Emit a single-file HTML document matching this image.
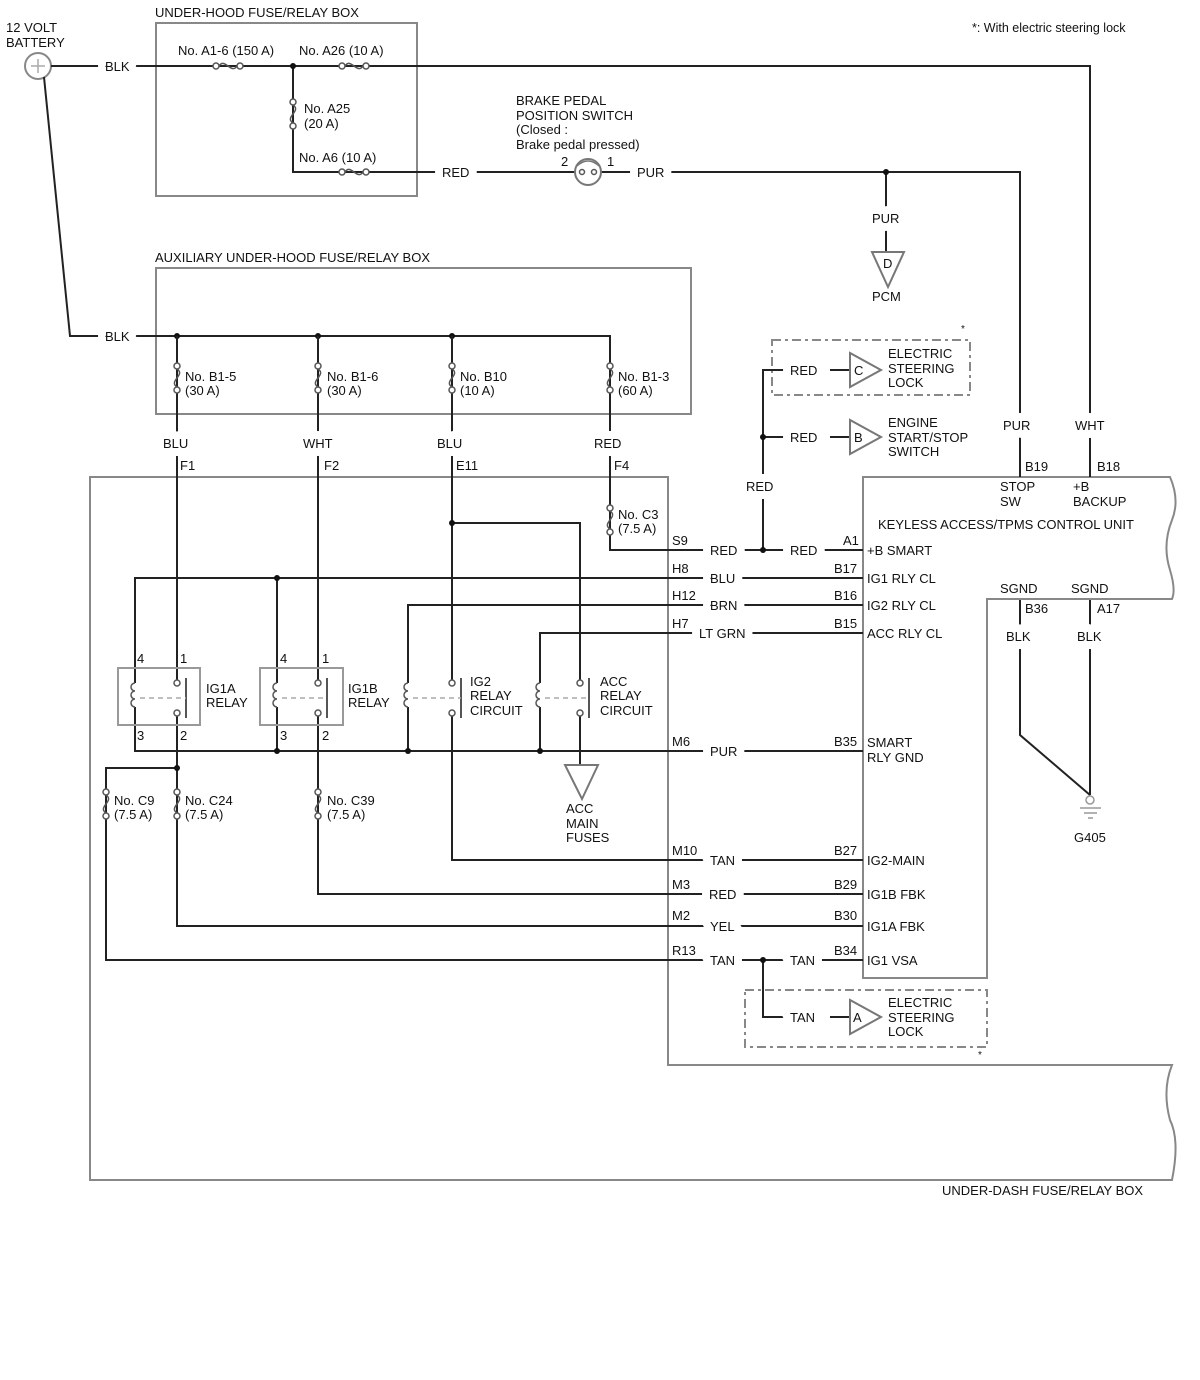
<!DOCTYPE html>
<html><head><meta charset="utf-8"><style>
html,body{margin:0;padding:0;background:#fff}
svg{display:block}
text{font-family:"Liberation Sans",sans-serif;font-size:13px;fill:#111;stroke:#fff;stroke-width:16px;paint-order:stroke;stroke-linejoin:round}
text.n{stroke:none}
.w{stroke:#222;stroke-width:2;fill:none}
.b{stroke:#888;stroke-width:2;fill:none}
.d{stroke:#888;stroke-width:2;fill:none;stroke-dasharray:9 4 3 4}
.f{stroke:#555;stroke-width:1.5;fill:#fff}
.j{fill:#111}
</style></head><body>
<svg width="1200" height="1380" viewBox="0 0 1200 1380" xmlns="http://www.w3.org/2000/svg">
<defs>
<g id="fv"><path class="f" style="fill:none" d="M0,3 C9,9 -9,15 0,21"/><circle class="f" cx="0" cy="0" r="3"/><circle class="f" cx="0" cy="24" r="3"/></g>
<g id="fh"><path class="f" style="fill:none" d="M3,0 C9,-9 15,9 21,0"/><circle class="f" cx="0" cy="0" r="3"/><circle class="f" cx="24" cy="0" r="3"/></g>
<g id="coil"><path class="f" style="fill:none" d="M0,0 a4,4 0 0,0 0,8 a4,4 0 0,0 0,8 a4,4 0 0,0 0,8"/></g>
</defs>

<rect class="b" x="156" y="23" width="261" height="173"/>
<rect class="b" x="156" y="268" width="535" height="146"/>
<path class="b" d="M668,477 H90 V1180 H1172 Q1180,1140 1170,1120 Q1162,1090 1172,1065 H668 Z"/>
<path class="b" d="M863,978 V477 H1170 Q1180,500 1172,520 Q1162,545 1170,570 Q1176,590 1172,599 H987 V978 Z"/>
<rect class="d" x="772" y="340" width="198" height="55"/>
<rect class="d" x="745" y="990" width="242" height="57"/>

<circle cx="38" cy="66" r="13" fill="#fff" stroke="#888" stroke-width="2"/>
<path d="M31,66 H45 M38,59 V73" stroke="#aaa" stroke-width="1.5"/>
<path class="w" d="M51,66 H1090 V477"/>
<path class="w" d="M44,77 L70,336 H610 V477"/>
<path class="w" d="M293,66 V172 H575"/>
<path class="w" d="M601,172 H1020 V477"/>
<path class="w" d="M886,172 V252"/>
<polygon points="872,252 904,252 888,287" fill="#fff" stroke="#777" stroke-width="2"/>
<circle class="j" cx="293" cy="66" r="3"/>
<circle class="j" cx="886" cy="172" r="3"/>
<use href="#fh" x="216" y="66"/>
<use href="#fh" x="342" y="66"/>
<use href="#fh" x="342" y="172"/>
<use href="#fv" x="293" y="102"/>
<circle cx="588" cy="172" r="13" fill="#fff" stroke="#777" stroke-width="2"/>
<path d="M577,166 Q588,156 599,166" stroke="#777" stroke-width="1.5" fill="none"/>
<circle class="f" cx="582" cy="172" r="2.5"/><circle class="f" cx="594" cy="172" r="2.5"/>

<circle class="j" cx="177" cy="336" r="3"/><circle class="j" cx="318" cy="336" r="3"/><circle class="j" cx="452" cy="336" r="3"/>
<path class="w" d="M177,336 V680 M318,336 V680 M452,336 V680 M452,716 V860 H863"/>
<path class="w" d="M610,477 V550 H863"/>
<use href="#fv" x="177" y="366"/><use href="#fv" x="318" y="366"/><use href="#fv" x="452" y="366"/><use href="#fv" x="610" y="366"/>
<use href="#fv" x="610" y="508"/>

<path class="w" d="M135,683 V578 H863 M277,683 V578"/>
<circle class="j" cx="277" cy="578" r="3"/>
<path class="w" d="M408,683 V605 H863 M540,683 V633 H863"/>
<path class="w" d="M135,707 V751 H863 M277,707 V751 M408,707 V751 M540,707 V751"/>
<circle class="j" cx="277" cy="751" r="3"/><circle class="j" cx="408" cy="751" r="3"/><circle class="j" cx="540" cy="751" r="3"/>
<path class="w" d="M452,523 H580 V680 M580,716 V765"/>
<circle class="j" cx="452" cy="523" r="3"/>
<polygon points="565,765 598,765 582,799" fill="#fff" stroke="#777" stroke-width="2"/>
<path class="w" d="M177,716 V926 H863 M177,768 H106 V960 H863 M318,716 V894 H863"/>
<circle class="j" cx="177" cy="768" r="3"/>
<use href="#fv" x="106" y="792"/><use href="#fv" x="177" y="792"/><use href="#fv" x="318" y="792"/>

<rect class="b" x="118" y="668" width="82" height="57" style="stroke:#999"/>
<rect class="b" x="260" y="668" width="83" height="57" style="stroke:#999"/>
<g>
<use href="#coil" x="135" y="683"/><use href="#coil" x="277" y="683"/><use href="#coil" x="408" y="683"/><use href="#coil" x="540" y="683"/>
<circle class="f" cx="177" cy="683" r="3"/><circle class="f" cx="177" cy="713" r="3"/>
<circle class="f" cx="318" cy="683" r="3"/><circle class="f" cx="318" cy="713" r="3"/>
<circle class="f" cx="452" cy="683" r="3"/><circle class="f" cx="452" cy="713" r="3"/>
<circle class="f" cx="580" cy="683" r="3"/><circle class="f" cx="580" cy="713" r="3"/>
<path stroke="#555" stroke-width="2" d="M186,678 V718 M327,678 V718 M461,678 V718 M589,678 V718"/>
<path stroke="#aaa" stroke-width="1.5" stroke-dasharray="5 4" d="M140,698 H186 M282,698 H327 M413,698 H461 M545,698 H589"/>
</g>

<path class="w" d="M763,550 V370 H790 M763,437 H790"/>
<circle class="j" cx="763" cy="437" r="3"/><circle class="j" cx="763" cy="550" r="3"/>
<path class="w" d="M830,370 H850 M830,437 H850"/>
<polygon points="850,353 850,387 881,370" fill="#fff" stroke="#777" stroke-width="2"/>
<polygon points="850,420 850,454 881,437" fill="#fff" stroke="#777" stroke-width="2"/>
<path class="w" d="M763,960 V1017 H790 M830,1017 H850"/>
<circle class="j" cx="763" cy="960" r="3"/>
<polygon points="850,1000 850,1034 881,1017" fill="#fff" stroke="#777" stroke-width="2"/>
<path class="w" d="M1020,600 V735 L1090,795 M1090,600 V795"/>
<circle cx="1090" cy="800" r="4" fill="#fff" stroke="#999" stroke-width="1.5"/>
<path stroke="#999" stroke-width="1.5" d="M1080,808 H1101 M1084,813 H1097 M1088,818 H1093"/>

<text x="6" y="32" class="n">12 VOLT</text><text x="6" y="47" class="n">BATTERY</text>
<text x="155" y="17" class="n">UNDER-HOOD FUSE/RELAY BOX</text>
<text x="972" y="32" class="n" style="font-size:12.5px">*: With electric steering lock</text>
<text x="105" y="71">BLK</text><text x="105" y="341">BLK</text>
<text x="178" y="55" class="n">No. A1-6 (150 A)</text>
<text x="299" y="55" class="n">No. A26 (10 A)</text>
<text x="304" y="113" class="n">No. A25</text><text x="304" y="128" class="n">(20 A)</text>
<text x="299" y="162" class="n">No. A6 (10 A)</text>
<text x="442" y="177">RED</text>
<text x="516" y="105" class="n">BRAKE PEDAL</text><text x="516" y="120" class="n">POSITION SWITCH</text>
<text x="516" y="134" class="n">(Closed :</text><text x="516" y="149" class="n">Brake pedal pressed)</text>
<text x="561" y="166" class="n">2</text><text x="607" y="166" class="n">1</text>
<text x="637" y="177">PUR</text>
<text x="872" y="223">PUR</text>
<text x="883" y="268" class="n">D</text>
<text x="872" y="301" class="n">PCM</text>
<text x="155" y="262" class="n">AUXILIARY UNDER-HOOD FUSE/RELAY BOX</text>
<text x="185" y="381" class="n">No. B1-5</text><text x="185" y="395" class="n">(30 A)</text>
<text x="327" y="381" class="n">No. B1-6</text><text x="327" y="395" class="n">(30 A)</text>
<text x="460" y="381" class="n">No. B10</text><text x="460" y="395" class="n">(10 A)</text>
<text x="618" y="381" class="n">No. B1-3</text><text x="618" y="395" class="n">(60 A)</text>
<text x="163" y="448">BLU</text><text x="303" y="448">WHT</text><text x="437" y="448">BLU</text><text x="594" y="448">RED</text>
<text x="180" y="470" class="n">F1</text><text x="324" y="470" class="n">F2</text><text x="456" y="470" class="n">E11</text><text x="614" y="470" class="n">F4</text>
<text x="618" y="519" class="n">No. C3</text><text x="618" y="533" class="n">(7.5 A)</text>
<text x="790" y="375">RED</text><text x="790" y="442">RED</text><text x="746" y="491">RED</text>
<text x="854" y="375" class="n">C</text><text x="854" y="442" class="n">B</text>
<text x="888" y="358" class="n">ELECTRIC</text><text x="888" y="373" class="n">STEERING</text><text x="888" y="387" class="n">LOCK</text>
<text x="888" y="427" class="n">ENGINE</text><text x="888" y="442" class="n">START/STOP</text><text x="888" y="456" class="n">SWITCH</text>
<text x="961" y="332" class="n" style="font-size:10px">*</text>
<text x="1003" y="430">PUR</text><text x="1075" y="430">WHT</text>
<text x="1025" y="471" class="n">B19</text><text x="1097" y="471" class="n">B18</text>
<text x="1000" y="491" class="n">STOP</text><text x="1000" y="506" class="n">SW</text>
<text x="1073" y="491" class="n">+B</text><text x="1073" y="506" class="n">BACKUP</text>
<text x="878" y="529" class="n">KEYLESS ACCESS/TPMS CONTROL UNIT</text>
<text x="672" y="545" class="n">S9</text><text x="710" y="555">RED</text><text x="790" y="555">RED</text><text x="843" y="545" class="n">A1</text><text x="867" y="555" class="n">+B SMART</text>
<text x="672" y="573" class="n">H8</text><text x="710" y="583">BLU</text><text x="834" y="573" class="n">B17</text><text x="867" y="583" class="n">IG1 RLY CL</text>
<text x="672" y="600" class="n">H12</text><text x="710" y="610">BRN</text><text x="834" y="600" class="n">B16</text><text x="867" y="610" class="n">IG2 RLY CL</text>
<text x="672" y="628" class="n">H7</text><text x="699" y="638">LT GRN</text><text x="834" y="628" class="n">B15</text><text x="867" y="638" class="n">ACC RLY CL</text>
<text x="1000" y="593" class="n">SGND</text><text x="1071" y="593" class="n">SGND</text>
<text x="1025" y="613" class="n">B36</text><text x="1097" y="613" class="n">A17</text>
<text x="1006" y="641">BLK</text><text x="1077" y="641">BLK</text>
<text x="1074" y="842" class="n">G405</text>
<text x="672" y="746" class="n">M6</text><text x="710" y="756">PUR</text><text x="834" y="746" class="n">B35</text><text x="867" y="747" class="n">SMART</text><text x="867" y="762" class="n">RLY GND</text>
<text x="672" y="855" class="n">M10</text><text x="710" y="865">TAN</text><text x="834" y="855" class="n">B27</text><text x="867" y="865" class="n">IG2-MAIN</text>
<text x="672" y="889" class="n">M3</text><text x="709" y="899">RED</text><text x="834" y="889" class="n">B29</text><text x="867" y="899" class="n">IG1B FBK</text>
<text x="672" y="920" class="n">M2</text><text x="710" y="931">YEL</text><text x="834" y="920" class="n">B30</text><text x="867" y="931" class="n">IG1A FBK</text>
<text x="672" y="955" class="n">R13</text><text x="710" y="965">TAN</text><text x="790" y="965">TAN</text><text x="834" y="955" class="n">B34</text><text x="867" y="965" class="n">IG1 VSA</text>
<text x="790" y="1022">TAN</text><text x="853" y="1022" class="n">A</text>
<text x="888" y="1007" class="n">ELECTRIC</text><text x="888" y="1022" class="n">STEERING</text><text x="888" y="1036" class="n">LOCK</text>
<text x="978" y="1058" class="n" style="font-size:10px">*</text>
<text x="942" y="1195" class="n">UNDER-DASH FUSE/RELAY BOX</text>
<text x="137" y="663" class="n">4</text><text x="180" y="663" class="n">1</text><text x="137" y="740" class="n">3</text><text x="180" y="740" class="n">2</text>
<text x="280" y="663" class="n">4</text><text x="322" y="663" class="n">1</text><text x="280" y="740" class="n">3</text><text x="322" y="740" class="n">2</text>
<text x="206" y="693" class="n">IG1A</text><text x="206" y="707" class="n">RELAY</text>
<text x="348" y="693" class="n">IG1B</text><text x="348" y="707" class="n">RELAY</text>
<text x="470" y="686" class="n">IG2</text><text x="470" y="700" class="n">RELAY</text><text x="470" y="715" class="n">CIRCUIT</text>
<text x="600" y="686" class="n">ACC</text><text x="600" y="700" class="n">RELAY</text><text x="600" y="715" class="n">CIRCUIT</text>
<text x="566" y="813" class="n">ACC</text><text x="566" y="828" class="n">MAIN</text><text x="566" y="842" class="n">FUSES</text>
<text x="114" y="805" class="n">No. C9</text><text x="114" y="819" class="n">(7.5 A)</text>
<text x="185" y="805" class="n">No. C24</text><text x="185" y="819" class="n">(7.5 A)</text>
<text x="327" y="805" class="n">No. C39</text><text x="327" y="819" class="n">(7.5 A)</text>
</svg>
</body></html>
